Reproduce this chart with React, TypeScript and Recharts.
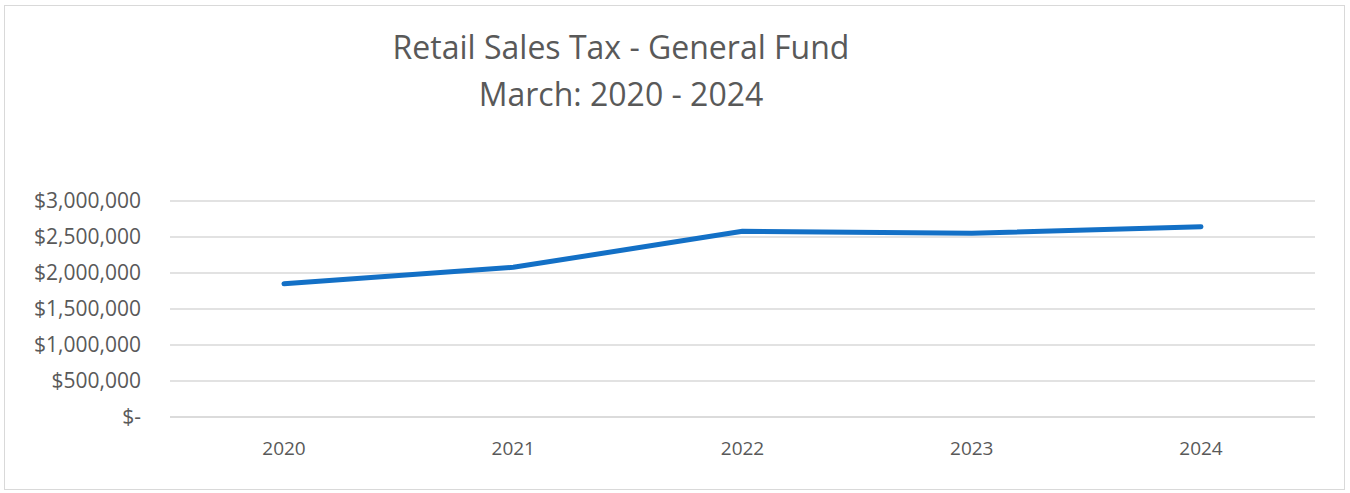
import React from "react";
import { LineChart, Line, XAxis, YAxis, CartesianGrid } from "recharts";

const years = ["2020", "2021", "2022", "2023", "2024"];
const salesTax = [1851000, 2079000, 2579000, 2551000, 2643000];
const yTicks = [0, 500000, 1000000, 1500000, 2000000, 2500000, 3000000];
const titleLines = ["Retail Sales Tax - General Fund", "March: 2020 - 2024"];

const data = years.map((y, i) => ({ year: y, value: salesTax[i] }));

const fmt = (v: number) => (v === 0 ? "$-" : "$" + v.toLocaleString("en-US"));

const FONT = "'Open Sans', Lato, sans-serif";

export default function App() {
  return (
    <div style={{ position: "absolute", left: 0, top: 0, width: 1350, height: 493, background: "#fff" }}>
      <div
        style={{
          position: "absolute",
          left: 4,
          top: 5,
          width: 1341,
          height: 485,
          border: "1px solid #d9d9d9",
          boxSizing: "border-box",
        }}
      />
      <div
        style={{
          position: "absolute",
          left: 0,
          top: 23,
          width: 1242,
          textAlign: "center",
          fontFamily: FONT,
          fontSize: 32,
          lineHeight: "47px",
          color: "#595959",
        }}
      >
        {titleLines.map((t) => (
          <div key={t}>{t}</div>
        ))}
      </div>
      <div style={{ position: "absolute", left: 0, top: 0 }}>
        <LineChart
          width={1350}
          height={493}
          data={data}
          margin={{ top: 201, right: 35, bottom: 46, left: 0 }}
        >
          <CartesianGrid vertical={false} stroke="#d9d9d9" strokeWidth={1.5} />
          <XAxis
            dataKey="year"
            axisLine={{ stroke: "#d9d9d9", strokeWidth: 1.5 }}
            tickLine={false}
            tick={{ fill: "#595959", fontSize: 19, fontFamily: FONT }}
            tickMargin={19}
            height={30}
            padding={{ left: 114, right: 114 }}
          />
          <YAxis
            width={170}
            domain={[0, 3000000]}
            ticks={yTicks}
            tickFormatter={fmt}
            axisLine={false}
            tickLine={false}
            tickSize={0}
            tickMargin={29}
            tick={{ fill: "#595959", fontSize: 21, fontFamily: FONT }}
            interval={0}
          />
          <Line
            type="linear"
            dataKey="value"
            stroke="#1370c6"
            strokeWidth={5}
            strokeLinecap="round"
            strokeLinejoin="round"
            dot={false}
            activeDot={false}
            isAnimationActive={false}
          />
        </LineChart>
      </div>
    </div>
  );
}
